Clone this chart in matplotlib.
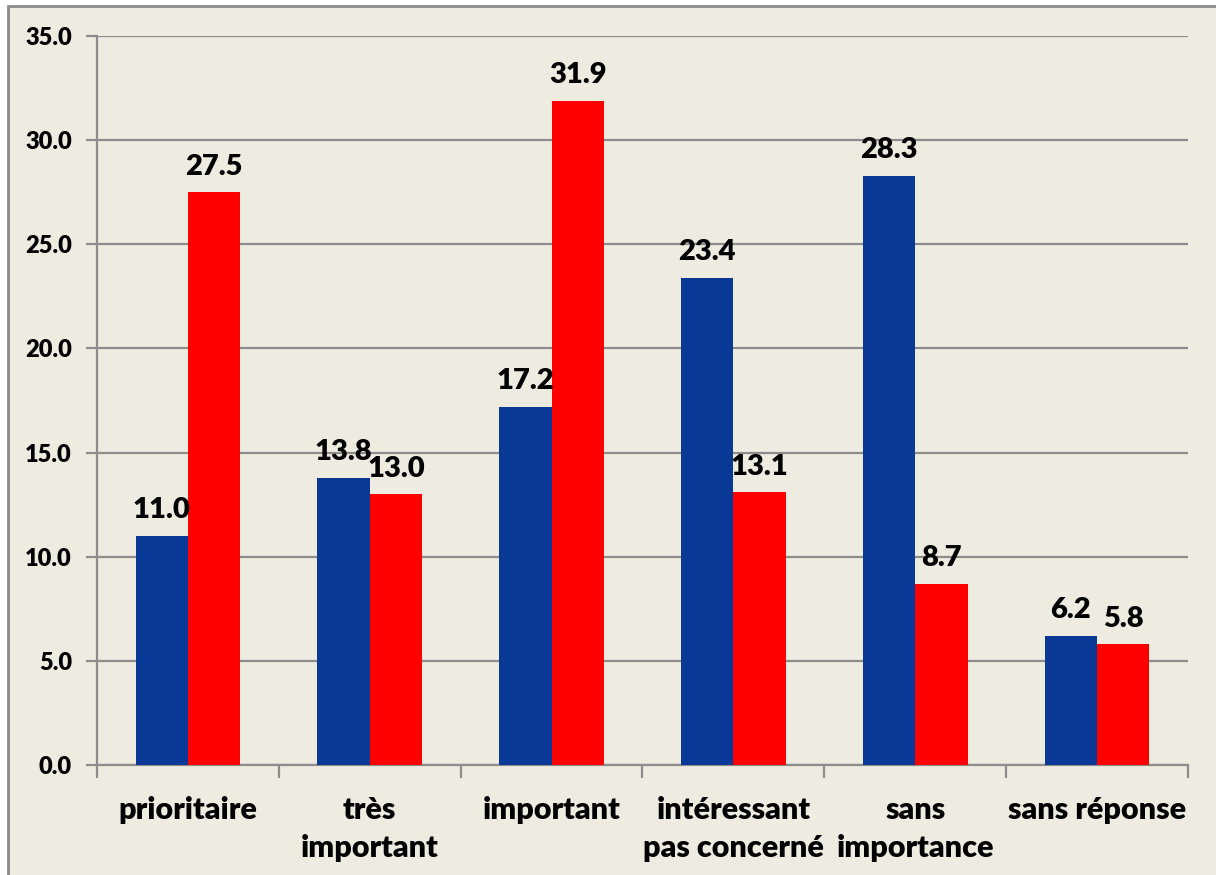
import matplotlib.pyplot as plt
from matplotlib.patches import Rectangle
import numpy as np

categories = ['prioritaire', 'très\nimportant', 'important',
              'intéressant\npas concerné', 'sans\nimportance', 'sans réponse']
serie_bleue = [11.0, 13.8, 17.2, 23.4, 28.3, 6.2]
serie_rouge = [27.5, 13.0, 31.9, 13.1, 8.7, 5.8]
y_ticks = [0, 5, 10, 15, 20, 25, 30, 35]

BG = '#EEEBE0'
BLUE = '#0A3896'
RED = '#FF0000'
GRID = '#8C8C8C'

plt.rcParams['font.family'] = ['Lato', 'DejaVu Sans']

fig = plt.figure(figsize=(12.16, 8.75), dpi=100)
fig.patch.set_facecolor('white')

# framed background panel
fig.patches.append(Rectangle((8 / 1216, -0.01), 1.02, 1 - 6 / 875 + 0.01,
                             transform=fig.transFigure, facecolor=BG,
                             edgecolor='#8A8A8A', linewidth=2, zorder=-10))

ax = fig.add_axes([97 / 1216, 1 - 765 / 875, (1188 - 97) / 1216, (765 - 36) / 875])
ax.set_facecolor('none')
ax.set_zorder(1)

x = np.arange(len(categories))
w = 0.288
b1 = ax.bar(x - w / 2, serie_bleue, w, color=BLUE, zorder=3)
b2 = ax.bar(x + w / 2, serie_rouge, w, color=RED, zorder=3)

for bars, vals in ((b1, serie_bleue), (b2, serie_rouge)):
    for rect, v in zip(bars, vals):
        ax.annotate(f'{v:.1f}', (rect.get_x() + rect.get_width() / 2, v),
                    xytext=(0, 9), textcoords='offset points',
                    ha='center', va='bottom', fontsize=21, fontweight='heavy',
                    zorder=4)

ax.set_xlim(-0.5, len(categories) - 0.5)
ax.set_ylim(0, 35)
ax.set_yticks(y_ticks)
ax.set_yticklabels([f'{t:.1f}' for t in y_ticks], fontsize=17, fontweight='heavy')
ax.yaxis.grid(True, color=GRID, linewidth=1.6, zorder=1)
ax.set_axisbelow(True)

# category boundaries carry the ticks, labels sit in the middle
ax.set_xticks(np.arange(len(categories) + 1) - 0.5)
ax.set_xticklabels([])
ax.set_xticks(x, minor=True)
ax.set_xticklabels(categories, minor=True, fontsize=22, fontweight='heavy',
                   va='top', linespacing=1.45)
ax.tick_params(axis='x', which='major', length=9, width=1.6, color=GRID)
ax.tick_params(axis='x', which='minor', length=0, pad=22)
ax.tick_params(axis='y', length=8, width=1.6, color=GRID, pad=10)

for s in ('top', 'right'):
    ax.spines[s].set_visible(False)
for s in ('left', 'bottom'):
    ax.spines[s].set_color(GRID)
    ax.spines[s].set_linewidth(1.6)

fig.savefig('out.png', dpi=100)
